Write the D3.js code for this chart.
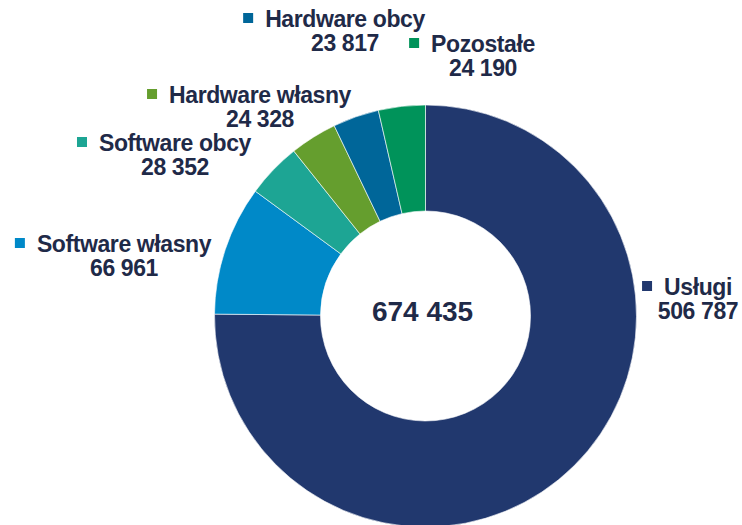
<!DOCTYPE html>
<html>
<head>
<meta charset="utf-8">
<script src="https://cdn.jsdelivr.net/npm/d3@7"></script>
<style>
  body { margin: 0; background: #fff; }
  svg { display: block; }
  text { font-family: "Liberation Sans", Arial, sans-serif; font-weight: bold; fill: #1f2a48; }
</style>
</head>
<body>
<div id="chart"></div>
<script>
'use strict';

// データ
const categories = ['Usługi', 'Software własny', 'Software obcy', 'Hardware własny', 'Hardware obcy', 'Pozostałe'];
const values = [506787, 66961, 28352, 24328, 23817, 24190];
const colors = ['#21386e', '#0089c8', '#1da594', '#659e2e', '#006699', '#00935a'];
const totalLabel = '674 435';

// ラベルの位置 (テキスト中央x, 1行目のベースラインy)
const labelPos = [[698, 295], [124, 252], [175, 151], [260, 103], [345, 27], [483, 52]];

const width = 742;
const height = 525;
const cx = 425.5;
const cy = 316;
const outRadius = 211;
const inRadius = 105;

const fmt = v => d3.format(',')(v).replace(/,/g, ' ');

const dataset = categories.map((name, i) => ({ name, value: values[i], color: colors[i], pos: labelPos[i] }));

const svg = d3.select('#chart')
    .append('svg')
    .attr('width', width)
    .attr('height', height);

const pie = d3.pie()
    .value(d => d.value)
    .sort(null);
const arc = d3.arc()
    .outerRadius(outRadius)
    .innerRadius(inRadius);

svg.append('g')
    .attr('transform', `translate(${cx}, ${cy})`)
    .selectAll('path')
    .data(pie(dataset))
    .enter()
    .append('path')
    .attr('d', arc)
    .attr('fill', d => d.data.color)
    .attr('stroke', '#ffffff')
    .attr('stroke-width', 0.6);

// 合計
svg.append('text')
    .attr('x', cx - 3)
    .attr('y', cy + 5)
    .attr('text-anchor', 'middle')
    .attr('font-size', '28px')
    .text(totalLabel);

// ラベル
const labels = svg.append('g')
    .selectAll('g')
    .data(dataset)
    .enter()
    .append('g');

labels.each(function (d) {
    const g = d3.select(this);
    const [x, y] = d.pos;
    const t = g.append('text')
        .attr('x', x)
        .attr('y', y)
        .attr('text-anchor', 'middle')
        .attr('font-size', '23px')
        .attr('letter-spacing', '-0.4px')
        .text(d.name);
    const w = t.node().getComputedTextLength();
    g.append('rect')
        .attr('x', x - w / 2 - 22)
        .attr('y', y - 14)
        .attr('width', 10)
        .attr('height', 10)
        .attr('fill', d.color);
    g.append('text')
        .attr('x', x)
        .attr('y', y + 24)
        .attr('text-anchor', 'middle')
        .attr('font-size', '23px')
        .attr('letter-spacing', '-0.4px')
        .text(fmt(d.value));
});
</script>
</body>
</html>
